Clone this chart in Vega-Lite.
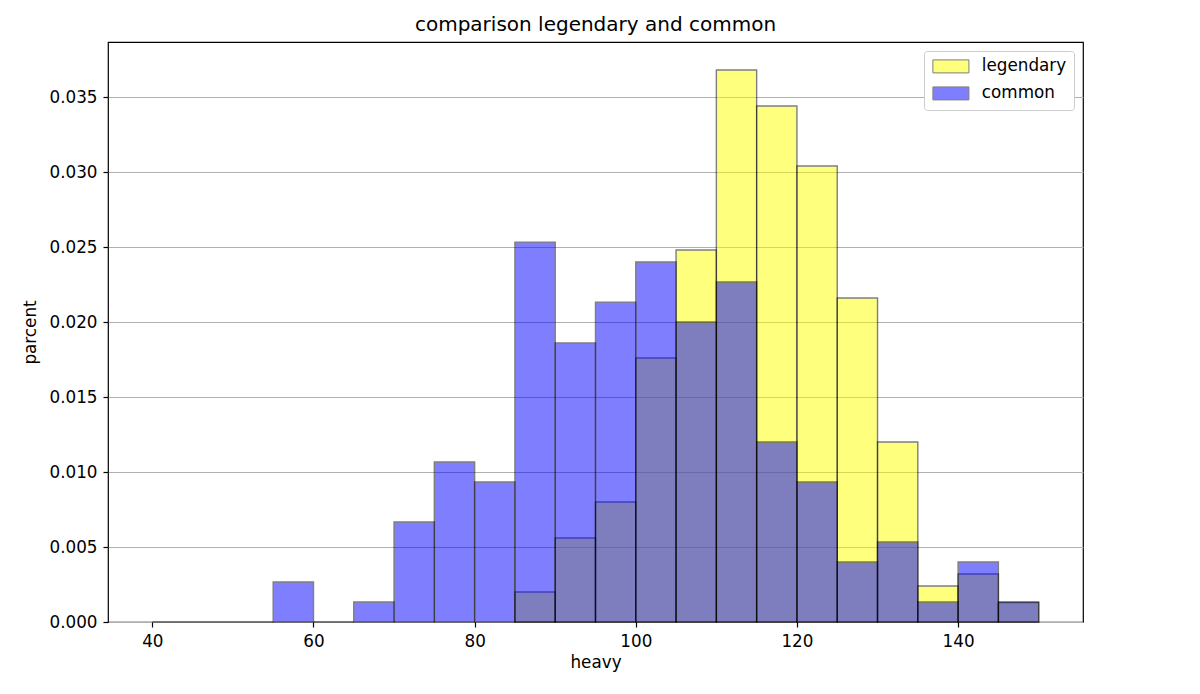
{
  "$schema": "https://vega.github.io/schema/vega-lite/v6.json",
  "autosize": {"type": "none"},
  "padding": {"left": 108, "top": 42, "right": 117, "bottom": 72},
  "width": 975,
  "height": 580,
  "title": {"text": "comparison legendary and common", "fontSize": 20, "fontWeight": "normal", "offset": 7, "color": "black"},
  "config": {
    "font": "DejaVu Sans",
    "view": {"stroke": "black", "strokeWidth": 1.2},
    "axis": {"labelFontSize": 16.8, "titleFontSize": 16.8, "labelColor": "black", "titleColor": "black", "titleFontWeight": "normal", "tickColor": "black", "tickSize": 5, "tickWidth": 1.2, "domain": false}
  },
  "data": {
    "values": [
      {"group": "legendary", "bin_start": 85, "bin_end": 90, "value": 0.002},
      {"group": "legendary", "bin_start": 90, "bin_end": 95, "value": 0.0056},
      {"group": "legendary", "bin_start": 95, "bin_end": 100, "value": 0.008},
      {"group": "legendary", "bin_start": 100, "bin_end": 105, "value": 0.0176},
      {"group": "legendary", "bin_start": 105, "bin_end": 110, "value": 0.0248},
      {"group": "legendary", "bin_start": 110, "bin_end": 115, "value": 0.0368},
      {"group": "legendary", "bin_start": 115, "bin_end": 120, "value": 0.0344},
      {"group": "legendary", "bin_start": 120, "bin_end": 125, "value": 0.0304},
      {"group": "legendary", "bin_start": 125, "bin_end": 130, "value": 0.0216},
      {"group": "legendary", "bin_start": 130, "bin_end": 135, "value": 0.012},
      {"group": "legendary", "bin_start": 135, "bin_end": 140, "value": 0.0024},
      {"group": "legendary", "bin_start": 140, "bin_end": 145, "value": 0.0032},
      {"group": "legendary", "bin_start": 145, "bin_end": 150, "value": 0.0013},
      {"group": "common", "bin_start": 40, "bin_end": 45, "value": 0},
      {"group": "common", "bin_start": 45, "bin_end": 50, "value": 0},
      {"group": "common", "bin_start": 50, "bin_end": 55, "value": 0},
      {"group": "common", "bin_start": 55, "bin_end": 60, "value": 0.00267},
      {"group": "common", "bin_start": 60, "bin_end": 65, "value": 0},
      {"group": "common", "bin_start": 65, "bin_end": 70, "value": 0.00133},
      {"group": "common", "bin_start": 70, "bin_end": 75, "value": 0.00667},
      {"group": "common", "bin_start": 75, "bin_end": 80, "value": 0.01067},
      {"group": "common", "bin_start": 80, "bin_end": 85, "value": 0.00933},
      {"group": "common", "bin_start": 85, "bin_end": 90, "value": 0.02533},
      {"group": "common", "bin_start": 90, "bin_end": 95, "value": 0.0186},
      {"group": "common", "bin_start": 95, "bin_end": 100, "value": 0.02133},
      {"group": "common", "bin_start": 100, "bin_end": 105, "value": 0.024},
      {"group": "common", "bin_start": 105, "bin_end": 110, "value": 0.02},
      {"group": "common", "bin_start": 110, "bin_end": 115, "value": 0.02267},
      {"group": "common", "bin_start": 115, "bin_end": 120, "value": 0.012},
      {"group": "common", "bin_start": 120, "bin_end": 125, "value": 0.00933},
      {"group": "common", "bin_start": 125, "bin_end": 130, "value": 0.004},
      {"group": "common", "bin_start": 130, "bin_end": 135, "value": 0.00533},
      {"group": "common", "bin_start": 135, "bin_end": 140, "value": 0.00133},
      {"group": "common", "bin_start": 140, "bin_end": 145, "value": 0.004},
      {"group": "common", "bin_start": 145, "bin_end": 150, "value": 0.00133}
    ]
  },
  "mark": {"type": "rect", "opacity": 0.5, "stroke": "black", "strokeWidth": 1.4},
  "encoding": {
    "x": {"field": "bin_start", "type": "quantitative", "scale": {"domain": [34.5, 155.5], "nice": false, "zero": false}, "axis": {"values": [40, 60, 80, 100, 120, 140], "grid": false, "title": "heavy", "labelPadding": 6, "titlePadding": 5}},
    "x2": {"field": "bin_end"},
    "y": {"field": "value", "type": "quantitative", "scale": {"domain": [0, 0.03867], "nice": false}, "axis": {"values": [0, 0.005, 0.01, 0.015, 0.02, 0.025, 0.03, 0.035], "format": ".3f", "grid": true, "gridColor": "#b0b0b0", "gridWidth": 1, "title": "parcent", "labelPadding": 6, "titlePadding": 9}},
    "y2": {"datum": 0},
    "color": {"field": "group", "type": "nominal", "scale": {"domain": ["legendary", "common"], "range": ["yellow", "blue"]},
      "legend": {"title": null, "orient": "none", "legendX": 816, "legendY": 9, "padding": 7, "strokeColor": "#cccccc", "fillColor": "white", "cornerRadius": 3,
        "symbolType": "M-1,-1L4.54,-1L4.54,1L-1,1Z", "symbolSize": 169, "symbolOpacity": 0.5, "symbolStrokeColor": "black", "symbolStrokeWidth": 1,
        "labelFontSize": 16.8, "labelColor": "black", "labelOffset": 34, "rowPadding": 8}}
  }
}
